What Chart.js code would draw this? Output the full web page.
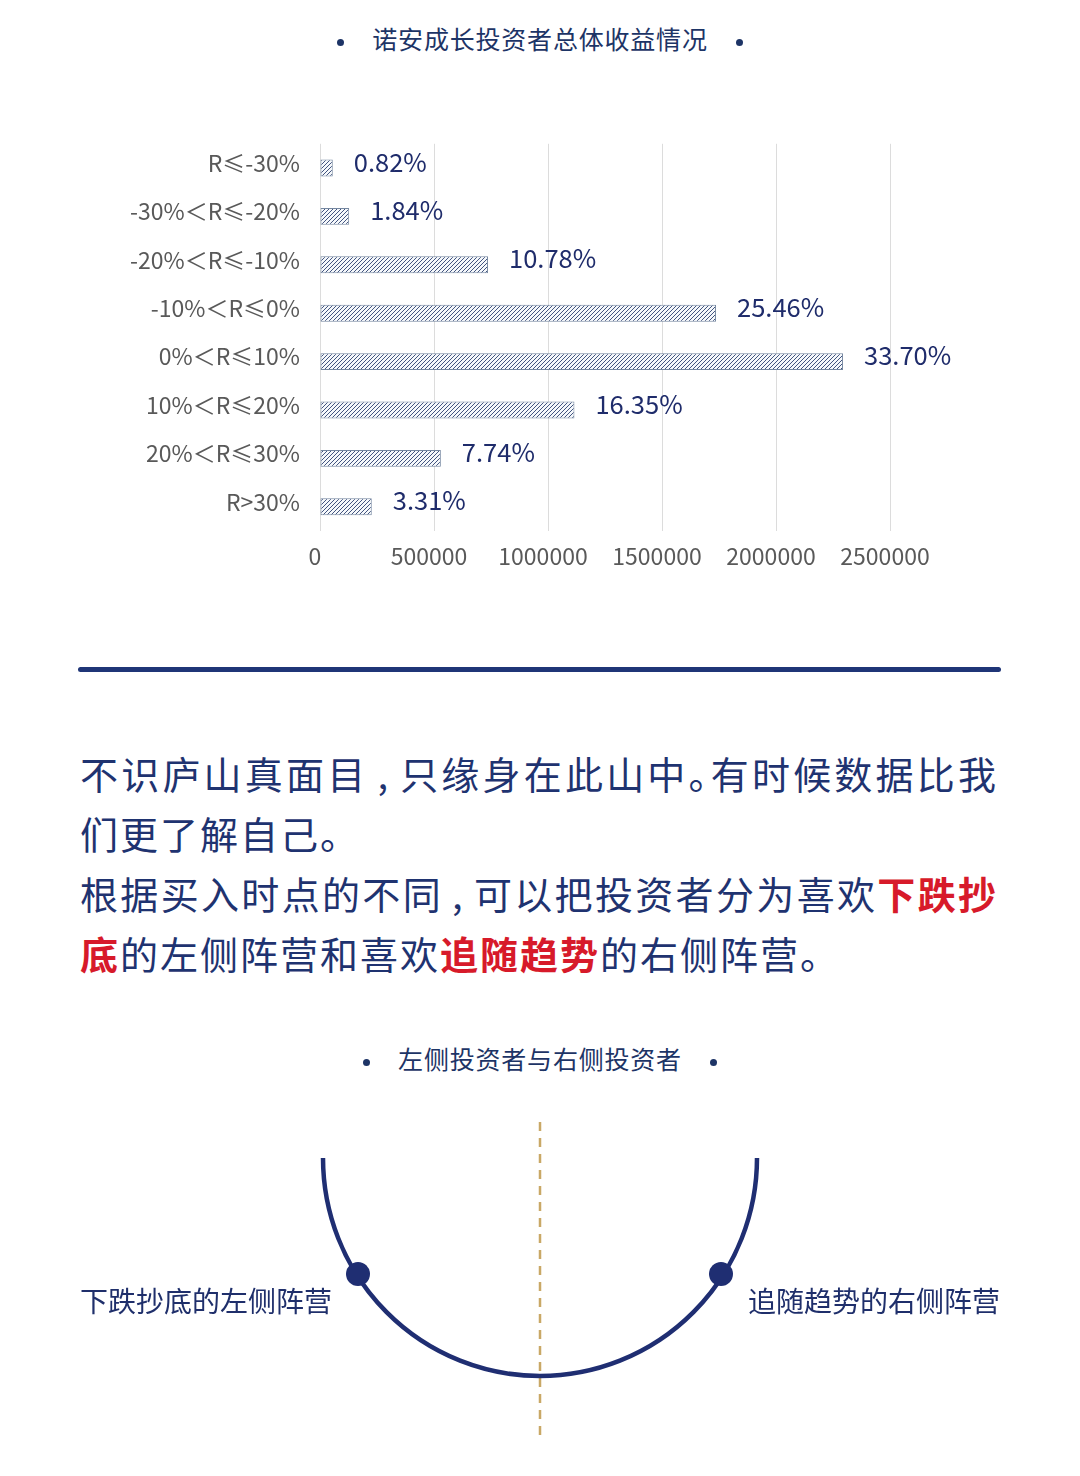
<!DOCTYPE html>
<html>
<head>
    <meta charset="utf-8">
    <title>诺安成长投资者总体收益情况</title>
    <script src="https://cdn.jsdelivr.net/npm/chart.js"></script>
    <style>
        body { margin: 0; width: 1080px; height: 1476px; background: #fff; position: relative; overflow: hidden;
               font-family: "Noto Sans CJK SC", "Noto Sans", sans-serif; color: #1f2f6b; }
        .sub { position: absolute; left: 0; width: 1080px; text-align: center; font-size: 25px; color: #1d3466; letter-spacing: 0.8px; }
        .sub .dot { display: inline-block; width: 7px; height: 7px; border-radius: 50%; background: #1d3466; vertical-align: middle; }
        .rule { position: absolute; left: 78px; top: 667px; width: 923px; height: 5px; border-radius: 3px; background: #1f3577; }
        .para { position: absolute; left: 80px; top: 743px; width: 918px; font-size: 38px; line-height: 60px; color: #1f3370;
                letter-spacing: 2px; white-space: nowrap; }
        .para .j { text-align: justify; text-align-last: justify; }
        .para .h { font-feature-settings: "halt"; }
        .para .c { margin: 0 9px; }
        .para b { color: #d71a2a; }
        .lbl { position: absolute; top: 1280px; font-size: 28px; color: #1f2f6b; white-space: nowrap; }
    </style>
</head>
<body>
    <div class="sub" style="top:20px"><span class="dot"></span><span style="margin:0 28px">诺安成长投资者总体收益情况</span><span class="dot"></span></div>
    <div style="position:absolute; left:0; top:110px; width:1080px; height:480px;">
        <canvas id="returnChart"></canvas>
    </div>
    <div class="rule"></div>
    <div class="para">
        <div class="j">不识庐山真面目<span class="c">,</span>只缘身在此山中<span class="h">。</span>有时候数据比我</div>
        <div>们更了解自己。</div>
        <div class="j">根据买入时点的不同<span class="c">,</span>可以把投资者分为喜欢<b>下跌抄</b></div>
        <div><b>底</b>的左侧阵营和喜欢<b>追随趋势</b>的右侧阵营。</div>
    </div>
    <div class="sub" style="top:1040px"><span class="dot"></span><span style="margin:0 28px">左侧投资者与右侧投资者</span><span class="dot"></span></div>
    <svg style="position:absolute; left:0; top:0" width="1080" height="1476">
        <line x1="540" y1="1122" x2="540" y2="1442" stroke="#c9a866" stroke-width="2.5" stroke-dasharray="9 7"/>
        <path d="M323 1158 A217 218 0 0 0 757 1158" fill="none" stroke="#1f2e72" stroke-width="4.5"/>
        <circle cx="358" cy="1274" r="12" fill="#1f2e72"/>
        <circle cx="721" cy="1274" r="12" fill="#1f2e72"/>
    </svg>
    <div class="lbl" style="left:80px">下跌抄底的左侧阵营</div>
    <div class="lbl" style="left:748px">追随趋势的右侧阵营</div>
    <script>
        // return buckets, top to bottom
        const categories = ['R≤-30%', '-30%＜R≤-20%', '-20%＜R≤-10%', '-10%＜R≤0%', '0%＜R≤10%', '10%＜R≤20%', '20%＜R≤30%', 'R>30%'];
        // number of investors
        const investors = [56000, 128000, 737000, 1737000, 2294000, 1116000, 530000, 227000];
        const shareLabels = ['0.82%', '1.84%', '10.78%', '25.46%', '33.70%', '16.35%', '7.74%', '3.31%'];
        const xTicks = [0, 500000, 1000000, 1500000, 2000000, 2500000];

        // diagonal hatch fill like the original excel chart
        const makeHatch = () => {
            const c = document.createElement('canvas');
            c.width = 4; c.height = 4;
            const g = c.getContext('2d');
            g.fillStyle = '#f5f8fb';
            g.fillRect(0, 0, 4, 4);
            g.strokeStyle = '#2f4170';
            g.lineWidth = 0.9;
            g.beginPath();
            g.moveTo(0, 4); g.lineTo(4, 0);
            g.moveTo(-1, 1); g.lineTo(1, -1);
            g.moveTo(3, 5); g.lineTo(5, 3);
            g.stroke();
            return g.createPattern(c, 'repeat');
        };

        const valueLabels = {
            id: 'valueLabels',
            afterDatasetsDraw(chart) {
                const ctx = chart.ctx;
                ctx.save();
                ctx.font = '25.5px "Noto Sans CJK SC"';
                ctx.fillStyle = '#1f2c6b';
                ctx.textBaseline = 'middle';
                chart.getDatasetMeta(0).data.forEach((bar, i) => {
                    ctx.fillText(shareLabels[i], bar.x + 21, bar.y - 6);
                });
                ctx.restore();
            }
        };

        const ctx = document.getElementById('returnChart').getContext('2d');
        new Chart(ctx, {
            type: 'bar',
            data: {
                labels: categories,
                datasets: [{
                    data: investors,
                    backgroundColor: makeHatch(),
                    borderColor: '#7587a0',
                    borderWidth: 1,
                    borderSkipped: false,
                    barPercentage: 0.7,
                    categoryPercentage: 0.5
                }]
            },
            options: {
                indexAxis: 'y',
                responsive: true,
                maintainAspectRatio: false,
                animation: false,
                layout: { padding: { top: 22, right: 190, bottom: 0, left: 0 } },
                plugins: { legend: { display: false }, tooltip: { enabled: false } },
                scales: {
                    x: {
                        min: 0,
                        max: 2500000,
                        afterBuildTicks: s => { s.ticks = xTicks.map(v => ({ value: v })); },
                        afterFit: s => { s.height = 59; },
                        grid: { color: '#dcdcdc', drawTicks: false },
                        border: { display: false },
                        ticks: { padding: 11, labelOffset: -5, color: '#595959', font: { family: 'Noto Sans CJK SC', size: 23 }, maxRotation: 0,
                                 callback: v => String(v) }
                    },
                    y: {
                        afterFit: s => { s.width = 320; },
                        grid: { display: false, drawTicks: false },
                        border: { display: false },
                        ticks: { padding: 20, labelOffset: -5, color: '#595959', font: { family: 'Noto Sans CJK SC', size: 23 } }
                    }
                }
            },
            plugins: [valueLabels]
        });
    </script>
</body>
</html>
